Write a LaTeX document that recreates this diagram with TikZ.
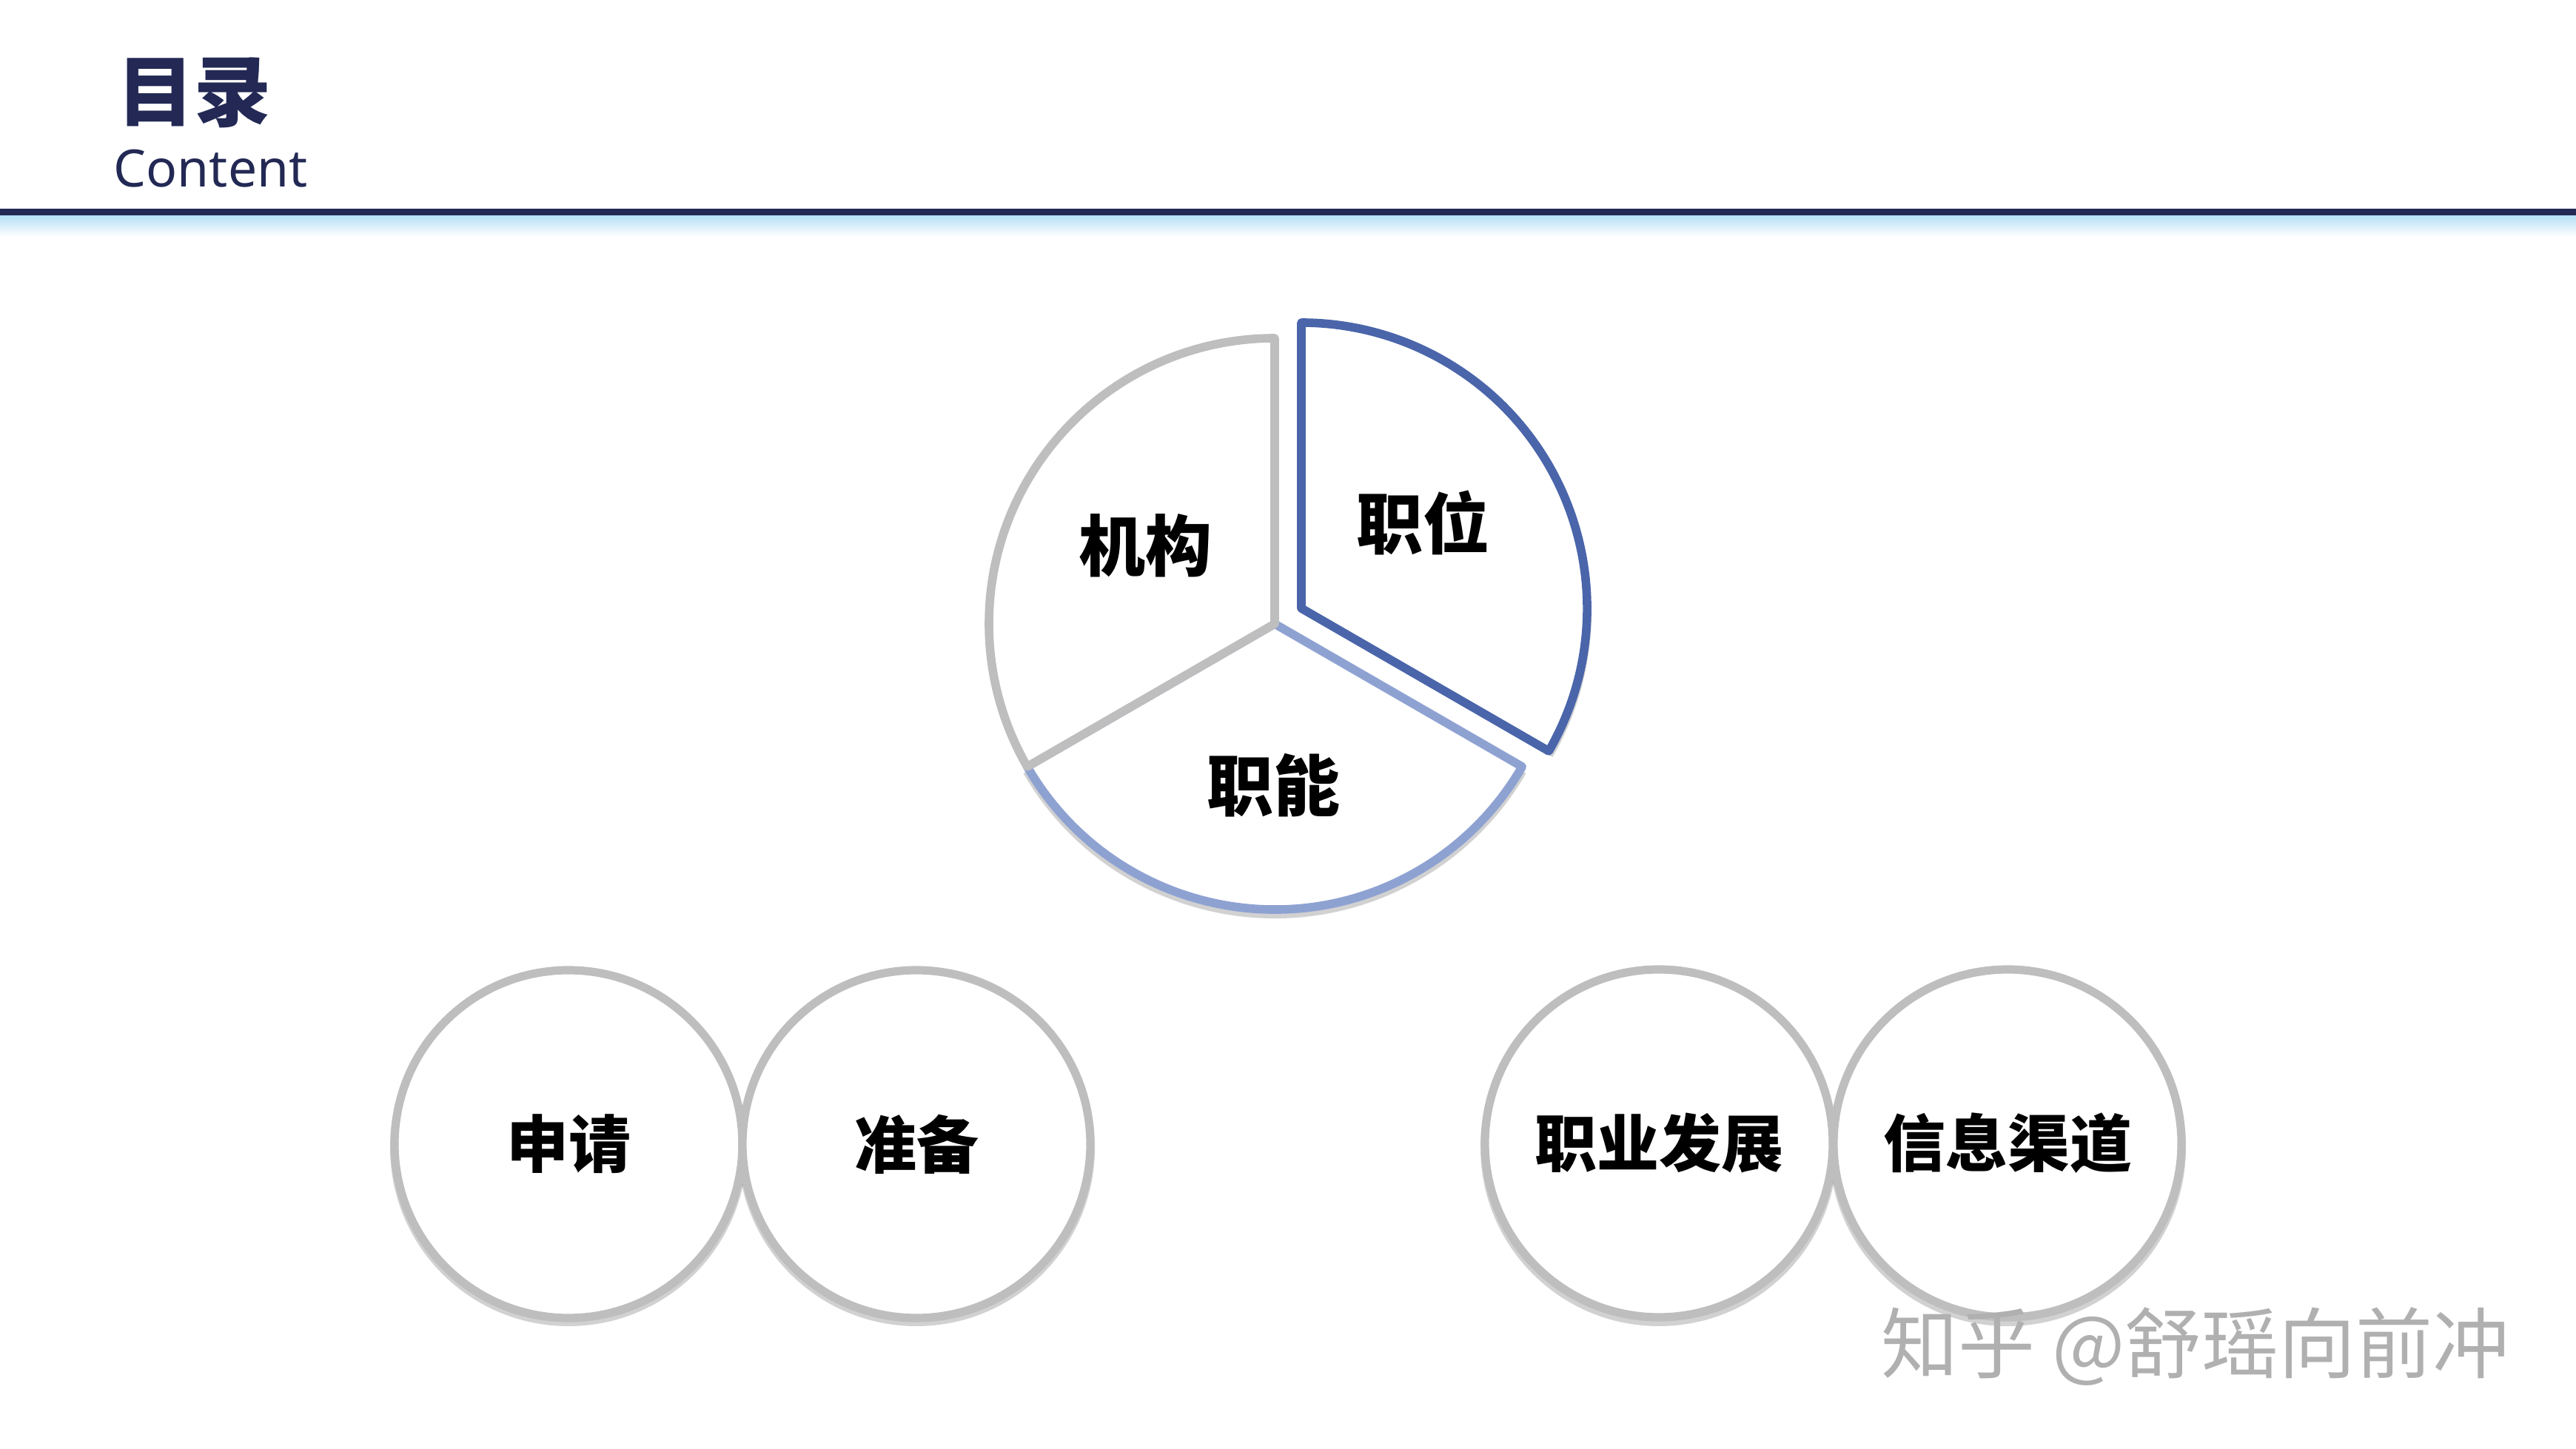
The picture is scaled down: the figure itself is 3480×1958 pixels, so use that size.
\documentclass[tikz,border=0pt]{standalone}
\usepackage{fontspec}
\setmainfont{Noto Sans}
\newfontfamily\cjk{Noto Sans CJK SC}
\definecolor{navy}{RGB}{35,41,84}
\definecolor{pgray}{RGB}{190,190,190}
\definecolor{pblue}{RGB}{74,101,170}
\definecolor{plight}{RGB}{142,162,210}
\definecolor{wmgray}{RGB}{176,176,176}
\definecolor{glow}{RGB}{176,221,246}
\tikzset{
  slice/.style={line width=2.9pt, line join=round, fill=white},
  shadowline/.style={draw=black, opacity=0.18, line width=3pt},
  bubble/.style={circle, draw=pgray, line width=2.8pt, fill=white, minimum size=117.5pt, inner sep=0pt,
    font=\cjk\bfseries\fontsize{21}{21}\selectfont},
  pielabel/.style={font=\cjk\bfseries\fontsize{22.5}{22.5}\selectfont, inner sep=0pt}
}
\begin{document}
\begin{tikzpicture}[x=0.25pt,y=0.25pt]
\useasboundingbox (0,0) rectangle (3480,1958);
\fill[white] (0,0) rectangle (3480,1958);
% header
\shade[top color=glow, bottom color=white] (0,1638) rectangle (3480,1669);
\fill[navy] (0,1667) rectangle (3480,1676);
\node[text=navy, font=\cjk\bfseries\fontsize{26}{26}\selectfont, inner sep=0pt] (title) at (262,1833) {目录};
\node[text=navy, font=\fontsize{17.4}{17.4}\selectfont, anchor=base west, inner sep=0pt] (sub) at (153,1705) {Content};
% pie shadows
\draw[shadowline] (1722,1109) ++(210:386) arc[start angle=210, end angle=330, radius=386];
\draw[shadowline] (1758,1131) ++(330:386) arc[start angle=330, end angle=360, radius=386];
% pie
\coordinate (pc) at (1722,1115);
\coordinate (pc2) at (1758,1136);
\draw[slice, draw=plight] (pc) -- ++(210:386) arc[start angle=210, end angle=330, radius=386] -- cycle;
\draw[slice, draw=pgray] (pc) -- ++(90:386) arc[start angle=90, end angle=210, radius=386] -- cycle;
\draw[slice, draw=pblue] (pc2) -- ++(-30:386) arc[start angle=-30, end angle=90, radius=386] -- cycle;
\node[pielabel] (jigou) at (1547,1221) {机构};
\node[pielabel] (zhiwei) at (1922,1252) {职位};
\node[pielabel] (zhineng) at (1720,897) {职能};
% circle shadows
\foreach \cx in {768,1238,2241,2712} \draw[shadowline] (\cx,407) circle (235);
% circles
\node[bubble] (shenqing) at (768,412) {申请};
\node[bubble] (zhunbei) at (1238,412) {准备};
\node[bubble] (fazhan) at (2241,413) {职业发展};
\node[bubble] (qudao) at (2712,413) {信息渠道};
% watermark
\node[text=wmgray, font=\cjk\fontsize{26}{26}\selectfont, inner sep=0pt] (wm) at (2966,138) {知乎 @舒瑶向前冲};
\end{tikzpicture}
\end{document}
